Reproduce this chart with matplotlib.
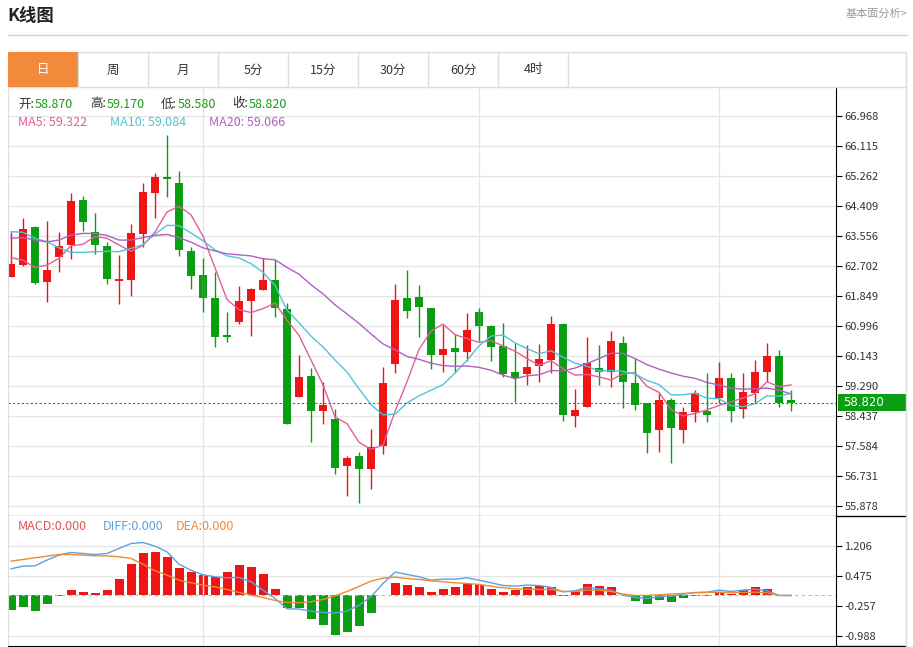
import matplotlib
matplotlib.use('Agg')
import matplotlib.pyplot as plt
import numpy as np
from matplotlib.lines import Line2D
from matplotlib.patches import Rectangle

plt.rcParams['font.family'] = ['Noto Sans CJK SC', 'DejaVu Sans']

#   Daily candles
opens = [62.40, 62.72, 63.80, 62.26, 62.95, 63.30, 64.59, 63.66, 63.27, 62.28,
         62.30, 63.62, 64.78, 65.21, 65.07, 63.14, 62.46, 61.79, 60.71, 61.12,
         61.72, 62.03, 62.30, 61.49, 58.99, 59.57, 58.59, 58.34, 57.02, 57.31,
         56.94, 57.58, 59.92, 61.79, 61.81, 61.50, 60.16, 60.38, 60.27, 61.39,
         61.00, 60.43, 59.68, 59.62, 59.85, 60.03, 61.05, 58.45, 58.70, 59.79,
         59.70, 60.50, 59.38, 58.80, 58.04, 58.88, 58.04, 58.56, 58.57, 58.96,
         59.51, 58.64, 59.08, 59.69, 60.15, 58.870]
highs = [63.66, 64.08, 63.83, 63.98, 63.66, 64.77, 64.69, 64.21, 63.38, 63.02,
         63.90, 65.05, 65.34, 66.43, 65.40, 63.25, 62.92, 62.54, 61.39, 62.13,
         62.09, 62.92, 62.87, 61.66, 60.17, 59.81, 59.41, 58.63, 57.31, 57.42,
         58.07, 59.82, 62.19, 62.58, 62.16, 61.52, 61.03, 60.77, 61.37, 61.50,
         61.02, 61.07, 60.52, 60.46, 60.48, 61.29, 61.07, 59.21, 60.67, 60.46,
         60.85, 60.70, 60.08, 58.81, 59.08, 58.94, 58.70, 59.18, 59.65, 59.98,
         59.67, 59.65, 60.03, 60.50, 60.30, 59.170]
lows = [62.38, 62.70, 62.20, 61.69, 62.54, 62.89, 63.70, 63.04, 62.20, 61.61,
        61.86, 63.25, 64.06, 64.67, 63.00, 62.04, 61.40, 60.41, 60.55, 61.05,
        60.72, 62.03, 61.24, 58.20, 58.98, 57.69, 58.21, 56.79, 56.17, 55.97,
        56.35, 57.35, 59.65, 61.22, 60.68, 59.77, 59.70, 59.65, 60.01, 60.57,
        59.99, 59.55, 58.84, 59.32, 59.41, 59.65, 58.30, 58.13, 58.68, 59.32,
        59.27, 58.67, 58.60, 57.38, 57.42, 57.11, 57.66, 58.26, 58.26, 58.82,
        58.26, 58.37, 58.84, 59.41, 58.69, 58.580]
closes = [62.76, 63.75, 62.22, 62.60, 63.28, 64.55, 63.96, 63.30, 62.34, 62.34,
          63.65, 64.81, 65.22, 65.18, 63.16, 62.42, 61.79, 60.68, 60.68, 61.72,
          62.05, 62.30, 61.50, 58.22, 59.56, 58.58, 58.75, 56.95, 57.25, 56.92,
          57.57, 59.37, 61.75, 61.43, 61.54, 60.16, 60.35, 60.27, 60.87, 60.99,
          60.41, 59.62, 59.51, 59.82, 60.05, 61.04, 58.47, 58.60, 59.94, 59.70,
          60.57, 59.40, 58.75, 57.96, 58.88, 58.09, 58.54, 59.08, 58.47, 59.51,
          58.58, 59.11, 59.70, 60.14, 58.82, 58.820]

#   Moving averages
ma5 = [62.94, 62.87, 62.66, 62.73, 62.92, 63.28, 63.32, 63.54, 63.49, 63.30,
       63.12, 63.29, 63.67, 64.24, 64.40, 64.16, 63.55, 62.65, 61.75, 61.46,
       61.38, 61.49, 61.65, 61.16, 60.73, 60.03, 59.32, 58.41, 58.22, 57.69,
       57.49, 57.61, 58.57, 59.41, 60.33, 60.85, 61.05, 60.75, 60.64, 60.53,
       60.58, 60.43, 60.28, 60.07, 59.88, 60.01, 59.78, 59.60, 59.62, 59.55,
       59.46, 59.64, 59.67, 59.28, 59.11, 58.62, 58.44, 58.51, 58.61, 58.74,
       58.84, 58.95, 59.07, 59.41, 59.27, 59.322]
ma10 = [63.68, 63.66, 63.49, 63.39, 63.22, 63.09, 63.09, 63.11, 63.12, 63.11,
        63.20, 63.31, 63.61, 63.86, 63.85, 63.64, 63.42, 63.16, 62.99, 62.93,
        62.77, 62.52, 62.15, 61.45, 61.09, 60.71, 60.40, 60.03, 59.69, 59.21,
        58.76, 58.47, 58.49, 58.81, 59.01, 59.17, 59.33, 59.66, 60.02, 60.43,
        60.71, 60.74, 60.52, 60.35, 60.21, 60.29, 60.11, 59.94, 59.85, 59.72,
        59.73, 59.71, 59.63, 59.45, 59.33, 59.04, 59.04, 59.09, 58.94, 58.93,
        58.73, 58.70, 58.79, 59.01, 59.00, 59.084]
ma20 = [63.49, 63.51, 63.44, 63.39, 63.44, 63.58, 63.63, 63.63, 63.57, 63.44,
        63.44, 63.51, 63.57, 63.60, 63.51, 63.38, 63.22, 63.13, 63.05, 63.02,
        62.99, 62.91, 62.88, 62.66, 62.47, 62.17, 61.91, 61.60, 61.34, 61.07,
        60.77, 60.49, 60.32, 60.13, 60.05, 59.94, 59.87, 59.85, 59.86, 59.82,
        59.74, 59.60, 59.50, 59.58, 59.61, 59.73, 59.72, 59.80, 59.93, 60.07,
        60.22, 60.22, 60.07, 59.90, 59.77, 59.66, 59.57, 59.51, 59.39, 59.32,
        59.23, 59.20, 59.21, 59.23, 59.17, 59.066]

#   MACD
macd = [-0.357, -0.292, -0.374, -0.211, -0.010, 0.130, 0.073, 0.049, 0.122, 0.398,
        0.772, 1.023, 1.064, 0.942, 0.666, 0.560, 0.487, 0.439, 0.577, 0.731,
        0.690, 0.520, 0.146, -0.309, -0.317, -0.569, -0.731, -0.958, -0.893, -0.747,
        -0.422, 0.0, 0.292, 0.244, 0.203, 0.081, 0.154, 0.211, 0.276, 0.252,
        0.154, 0.081, 0.130, 0.195, 0.236, 0.211, -0.016, 0.106, 0.268, 0.236,
        0.203, 0.010, -0.130, -0.203, -0.114, -0.171, -0.073, -0.016, -0.016, 0.081,
        0.041, 0.130, 0.203, 0.162, 0.0, 0.0]
diff = [0.650, 0.715, 0.723, 0.861, 0.983, 1.048, 1.023, 0.999, 1.023, 1.145,
        1.267, 1.291, 1.202, 1.064, 0.763, 0.617, 0.504, 0.455, 0.430, 0.439,
        0.333, 0.130, -0.073, -0.325, -0.333, -0.382, -0.414, -0.430, -0.382, -0.236,
        -0.032, 0.292, 0.569, 0.512, 0.455, 0.374, 0.398, 0.398, 0.430, 0.374,
        0.309, 0.244, 0.227, 0.252, 0.244, 0.195, 0.089, 0.114, 0.195, 0.162,
        0.130, 0.008, -0.049, -0.073, -0.032, -0.016, 0.032, 0.073, 0.081, 0.130,
        0.097, 0.130, 0.154, 0.114, 0.0, 0.0]
dea = [0.837, 0.877, 0.918, 0.958, 0.999, 0.999, 0.983, 0.967, 0.967, 0.942,
       0.902, 0.763, 0.601, 0.495, 0.374, 0.309, 0.252, 0.211, 0.146, 0.073,
       0.008, -0.049, -0.122, -0.171, -0.179, -0.154, -0.097, -0.008, 0.097, 0.219,
       0.349, 0.422, 0.447, 0.414, 0.390, 0.357, 0.333, 0.309, 0.292, 0.268,
       0.227, 0.187, 0.162, 0.154, 0.146, 0.146, 0.097, 0.097, 0.130, 0.130,
       0.097, 0.032, 0.0, 0.0, 0.016, 0.032, 0.049, 0.065, 0.073, 0.081,
       0.065, 0.073, 0.081, 0.065, 0.0, 0.0]

price_ticks = [66.968, 66.115, 65.262, 64.409, 63.556, 62.702, 61.849,
               60.996, 60.143, 59.290, 58.437, 57.584, 56.731, 55.878]
macd_ticks = [1.206, 0.475, -0.257, -0.988]
tabs = ['日', '周', '月', '5分', '15分', '30分', '60分', '4时']
grid_idx = [16, 39, 59]

RED = '#f01414'
GREEN = '#0b9e12'
C_MA5 = '#e0609c'
C_MA10 = '#4fc4d8'
C_MA20 = '#b060c4'
GRID = '#e6e6e6'

W, H = 913, 647
def fx(px):
    return px / W
def fy(py):
    return 1 - py / H

fig = plt.figure(figsize=(W / 100, H / 100), dpi=100)

#   header
fig.text(fx(7), fy(16), 'K线图', fontsize=12.5, fontweight='bold', color='#222', va='center')
fig.text(fx(907), fy(14), '基本面分析>', fontsize=8, color='#999', va='center', ha='right')
fig.add_artist(Line2D([fx(8), fx(907)], [fy(35), fy(35)], color='#d0d0d0', lw=1))

#   tab bar
fig.add_artist(Rectangle((fx(8), fy(87)), fx(906) - fx(8), fy(52) - fy(87),
                         facecolor='white', edgecolor='#dddddd', lw=1))
for i, t in enumerate(tabs):
    x0 = 8 + 70 * i
    if i == 0:
        fig.add_artist(Rectangle((fx(x0), fy(87)), 70 / W, 35 / H, facecolor='#f28a3c', edgecolor='none'))
    fig.add_artist(Line2D([fx(x0 + 70)] * 2, [fy(52), fy(87)], color='#dddddd', lw=1))
    fig.text(fx(x0 + 35), fy(70), t, fontsize=9, ha='center', va='center',
             color='white' if i == 0 else '#333')

x = np.arange(len(closes))
o = np.array(opens)
c = np.array(closes)
cols = np.where(c >= o, RED, GREEN)

#   main panel
ax = fig.add_axes([fx(8), fy(516), (836 - 8) / W, (516 - 88) / H])
ax.set_xlim(-0.25, 68.75)
ax.set_ylim(55.594, 67.764)
ax.set_yticks(price_ticks)
ax.set_yticklabels(['%.3f' % v for v in price_ticks])
ax.yaxis.tick_right()
ax.set_xticks([])
ax.grid(axis='y', color=GRID, lw=1)
for g in grid_idx:
    ax.axvline(g, color=GRID, lw=1)
ax.tick_params(axis='y', length=4, width=0.8, labelsize=8, pad=2, labelcolor='#333')
ax.spines['top'].set_visible(False)
ax.spines['left'].set_color('#dddddd')
ax.spines['right'].set_color('black')
ax.spines['bottom'].set_color('black')
ax.set_axisbelow(True)

ax.vlines(x, lows, highs, colors=cols, lw=1)
ax.bar(x, np.maximum(np.abs(c - o), 0.06), bottom=np.minimum(o, c), width=0.72, color=cols, lw=0)
ax.plot(x, ma5, color=C_MA5, lw=1)
ax.plot(x, ma10, color=C_MA10, lw=1)
ax.plot(x, ma20, color=C_MA20, lw=1)
ax.axhline(closes[-1], color=GREEN, ls=(0, (2, 2)), lw=0.8)

# price box on the axis
fig.add_artist(Rectangle((fx(838), fy(411)), 68 / W, 17 / H, facecolor=GREEN, edgecolor='none'))
fig.text(fx(843), fy(403), '%.3f' % closes[-1], fontsize=8.5, color='white', va='center',
         family='DejaVu Sans')

#   legend text
items = [('开:', opens[-1], 18), ('高:', highs[-1], 90), ('低:', lows[-1], 161), ('收:', closes[-1], 232)]
for lab, v, px in items:
    fig.text(fx(px), fy(104), lab, fontsize=9, color='#333', va='center')
    fig.text(fx(px + 17), fy(104), '%.3f' % v, fontsize=9, color='#1a9a1a', va='center')
fig.text(fx(18), fy(122), 'MA5: %.3f' % ma5[-1], fontsize=9, color=C_MA5, va='center')
fig.text(fx(110), fy(122), 'MA10: %.3f' % ma10[-1], fontsize=9, color=C_MA10, va='center')
fig.text(fx(209), fy(122), 'MA20: %.3f' % ma20[-1], fontsize=9, color=C_MA20, va='center')

#   MACD panel
ax2 = fig.add_axes([fx(8), fy(646), (836 - 8) / W, (646 - 516) / H])
ax2.set_xlim(-0.25, 68.75)
ax2.set_ylim(-1.232, 1.937)
ax2.set_yticks(macd_ticks)
ax2.set_yticklabels(['%.3f' % v for v in macd_ticks])
ax2.yaxis.tick_right()
ax2.set_xticks([])
ax2.grid(axis='y', color=GRID, lw=1)
for g in grid_idx:
    ax2.axvline(g, color=GRID, lw=1)
ax2.tick_params(axis='y', length=4, width=0.8, labelsize=8, pad=2, labelcolor='#333')
ax2.spines['top'].set_visible(False)
ax2.spines['left'].set_color('#dddddd')
ax2.spines['right'].set_color('black')
ax2.spines['bottom'].set_color('black')
ax2.set_axisbelow(True)

m = np.array(macd)
ax2.axhline(0, color='#a8bcd4', ls=(0, (3, 3)), lw=0.8)
ax2.bar(x, m, width=0.75, color=np.where(m >= 0, RED, GREEN), lw=0)
ax2.plot(x, diff, color='#5aa2e2', lw=1)
ax2.plot(x, dea, color='#f08a30', lw=1)

fig.text(fx(18), fy(527), 'MACD:%.3f' % macd[-1], fontsize=9, color='#e5534b', va='center')
fig.text(fx(103), fy(527), 'DIFF:%.3f' % diff[-1], fontsize=9, color='#5aa2e2', va='center')
fig.text(fx(176), fy(527), 'DEA:%.3f' % dea[-1], fontsize=9, color='#f08a30', va='center')

# frame lines right of the axis
fig.add_artist(Line2D([fx(836), fx(906)], [fy(516), fy(516)], color='black', lw=1))
fig.add_artist(Line2D([fx(836), fx(906)], [fy(646), fy(646)], color='black', lw=1))
fig.add_artist(Line2D([fx(906), fx(906)], [fy(87), fy(646)], color='#dddddd', lw=1))

fig.savefig('out.png', dpi=100)
